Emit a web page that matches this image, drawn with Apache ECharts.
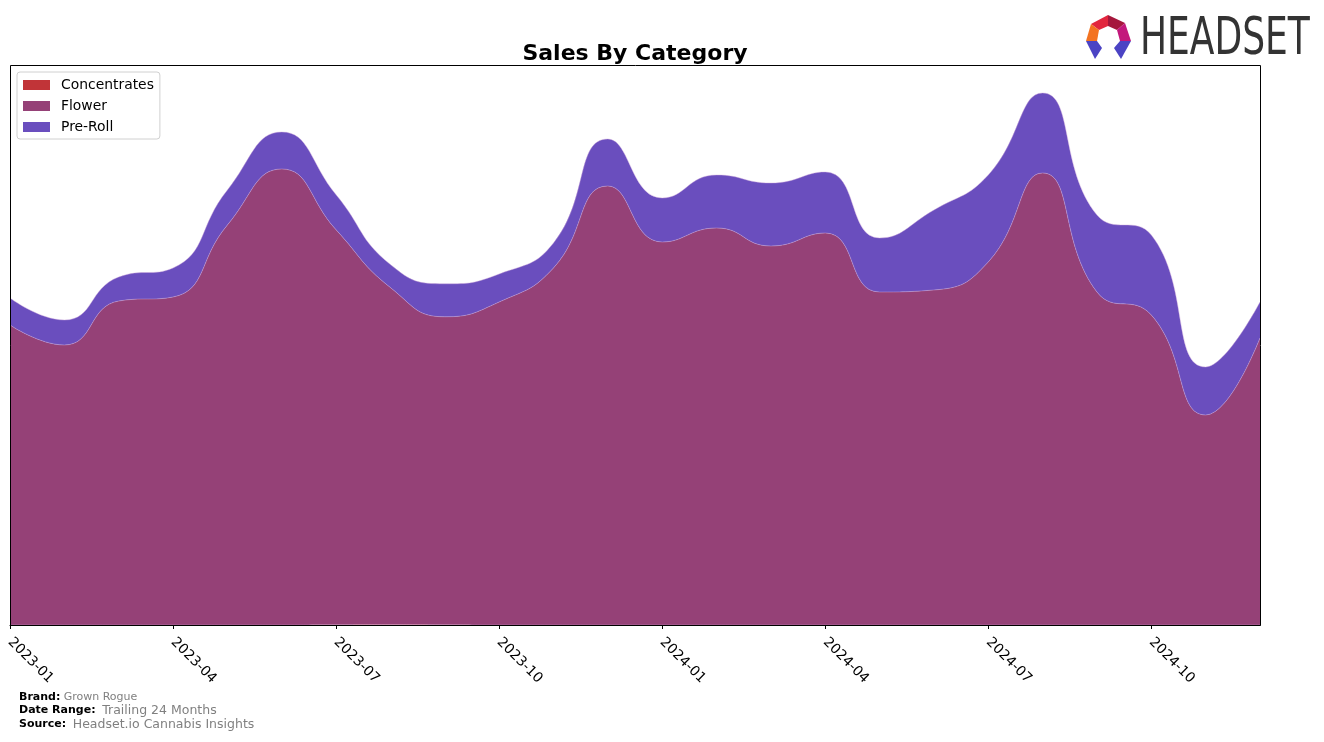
<!DOCTYPE html>
<html>
<head>
<meta charset="utf-8">
<script src="https://cdn.jsdelivr.net/npm/echarts@6/dist/echarts.min.js"></script>
<style>
html,body{margin:0;padding:0;background:#fff;}
#chart{width:1324px;height:742px;}
</style>
</head>
<body>
<div id="chart"></div>
<script>
const months = ['2023-01','2023-02','2023-03','2023-04','2023-05','2023-06','2023-07','2023-08','2023-09','2023-10','2023-11','2023-12',
                '2024-01','2024-02','2024-03','2024-04','2024-05','2024-06','2024-07','2024-08','2024-09','2024-10','2024-11','2024-12'];
const concentrates = [0,0,0,0,0,0,0.2,0.4,0.2,0,0,0, 0,0,0,0,0,0,0,0,0,0,0,0];
const flower = [300,280,324,328,400,456,395,337,308,323,357,439, 383,397,379,392,333,335,363,452,333,310,210,287];
const preRoll = [27,25,24,29,35,37,35,23,33,28,25,47, 44,53,63,61,54,80,87,80,77,80,48,36];
const tickLabels = ['2023-01','2023-04','2023-07','2023-10','2024-01','2024-04','2024-07','2024-10'];

const colors = ['#C13438', '#954177', '#6A4EBE'];

const chart = echarts.init(document.getElementById('chart'), null, {renderer: 'canvas'});

function mkSeries(name, arr, color) {
  return {
    name: name,
    type: 'line',
    stack: 'total',
    smooth: 0.5,
    showSymbol: false,
    symbol: 'none',
    lineStyle: {width: 0.6, color: 'rgba(210,170,220,0.7)'},
    areaStyle: {color: color, opacity: 1},
    itemStyle: {color: color},
    data: arr
  };
}

const option = {
  animation: false,
  backgroundColor: '#fff',
  title: {
    text: 'Sales By Category',
    left: 630, top: 38, textAlign: 'center',
    textStyle: {fontFamily: 'DejaVu Sans', fontWeight: 'bold', fontSize: 22, color: '#000'}
  },
  legend: {
    orient: 'vertical',
    left: 17, top: 72,
    padding: [6, 6, 5, 6],
    itemWidth: 27, itemHeight: 10, itemGap: 7,
    icon: 'rect',
    borderColor: '#d0d0d0', borderWidth: 1, borderRadius: 3,
    backgroundColor: '#fff',
    textStyle: {fontFamily: 'DejaVu Sans', fontSize: 13.9, color: '#000', padding: [0,0,0,6]},
    data: ['Concentrates', 'Flower', 'Pre-Roll']
  },
  grid: {left: 10, right: 64, top: 65, bottom: 117, containLabel: false},
  xAxis: {
    type: 'category',
    boundaryGap: false,
    data: months,
    axisLine: {show: true, lineStyle: {color: '#000', width: 1}},
    axisTick: {show: true, length: 4, interval: 2, alignWithLabel: true, lineStyle: {color: '#000'}},
    axisLabel: {
      interval: 2,
      rotate: -45,
      margin: 15,
      fontFamily: 'DejaVu Sans', fontSize: 13.9, color: '#000',
      formatter: v => tickLabels.indexOf(v) >= 0 ? v : ''
    },
    splitLine: {show: false}
  },
  yAxis: {
    type: 'value', min: 0, max: 560,
    axisLine: {show: false}, axisTick: {show: false}, axisLabel: {show: false}, splitLine: {show: false}
  },
  series: [
    mkSeries('Concentrates', concentrates, colors[0]),
    mkSeries('Flower', flower, colors[1]),
    mkSeries('Pre-Roll', preRoll, colors[2])
  ],
  graphic: [
    {type: 'rect', z: 100, silent: true, shape: {x: 10.5, y: 65.5, width: 1250, height: 560},
     style: {fill: 'none', stroke: '#000', lineWidth: 1}},
    {type: 'text', left: 19, top: 691, z: 100, style: {
      text: '{b|Brand:} {g|Grown Rogue}',
      rich: {b: {fontFamily: 'DejaVu Sans', fontWeight: 'bold', fontSize: 11, fill: '#000'},
             g: {fontFamily: 'DejaVu Sans', fontSize: 11, fill: '#808080'}}}},
    {type: 'text', left: 19, top: 704, z: 100, style: {
      text: '{b|Date Range:}  {g|Trailing 24 Months}',
      rich: {b: {fontFamily: 'DejaVu Sans', fontWeight: 'bold', fontSize: 11, fill: '#000'},
             g: {fontFamily: 'DejaVu Sans', fontSize: 12.5, fill: '#808080'}}}},
    {type: 'text', left: 19, top: 718, z: 100, style: {
      text: '{b|Source:}  {g|Headset.io Cannabis Insights}',
      rich: {b: {fontFamily: 'DejaVu Sans', fontWeight: 'bold', fontSize: 11, fill: '#000'},
             g: {fontFamily: 'DejaVu Sans', fontSize: 12.5, fill: '#808080'}}}},
    {type: 'polygon', z: 100, shape: {points: [[1091,24],[1108,15],[1108,26],[1099,30]]}, style: {fill: '#E2263E'}},
    {type: 'polygon', z: 100, shape: {points: [[1108,15],[1125,23],[1117,30],[1108,26]]}, style: {fill: '#A5173C'}},
    {type: 'polygon', z: 100, shape: {points: [[1125,23],[1131,41],[1120,41],[1117,30]]}, style: {fill: '#C3187C'}},
    {type: 'polygon', z: 100, shape: {points: [[1091,24],[1099,30],[1097,41],[1086,41]]}, style: {fill: '#F37321'}},
    {type: 'polygon', z: 100, shape: {points: [[1086,41],[1097,41],[1102,48],[1095,59]]}, style: {fill: '#4B43C4'}},
    {type: 'polygon', z: 100, shape: {points: [[1120,41],[1131,41],[1121,59],[1114,48]]}, style: {fill: '#4B43C4'}},
    {type: 'text', z: 100, x: 1140, y: 15, scaleX: 0.785, style: {
      text: 'HEADSET', fontFamily: 'Liberation Sans Narrow, DejaVu Sans Condensed, sans-serif', fontSize: 51, fill: '#333333'}}
  ]
};
chart.setOption(option);
</script>
</body>
</html>
